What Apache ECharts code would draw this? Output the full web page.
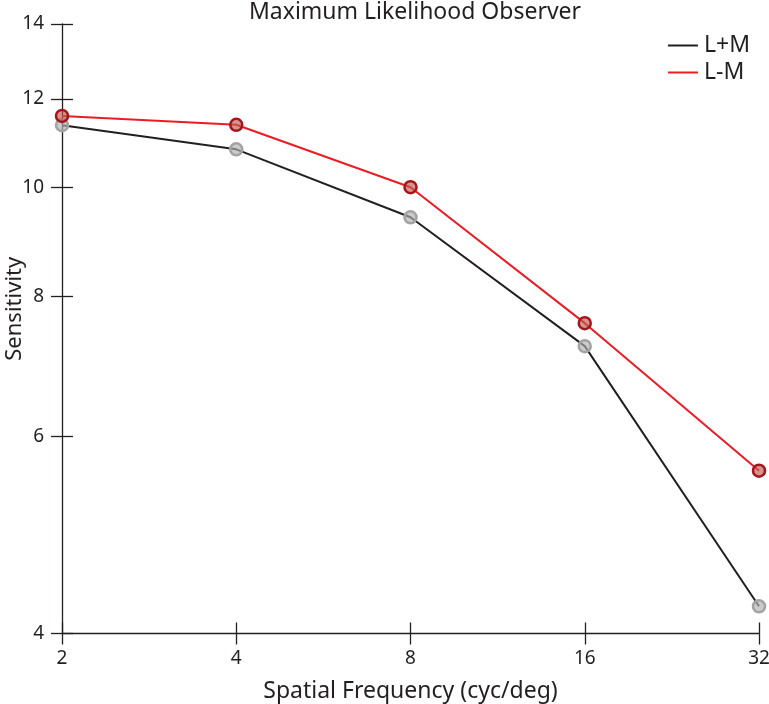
<!DOCTYPE html>
<html><head><meta charset="utf-8">
<script src="https://cdn.jsdelivr.net/npm/echarts@6/dist/echarts.min.js"></script>
<style>html,body{margin:0;padding:0;background:#fff}#c{width:769px;height:704px}</style>
</head><body><div id="c"></div>
<script>
// data
const frequencies = [2, 4, 8, 16, 32];
const lumSensitivity = [11.37, 10.82, 9.41, 7.22, 4.23];     // L+M
const chromSensitivity = [11.59, 11.38, 10.01, 7.57, 5.59];  // L-M
const yTicks = [4, 6, 8, 10, 12, 14];
const xTicks = [2, 4, 8, 16, 32];
const seriesNames = ['L+M', 'L-M'];

const FONT = 'Noto Sans';
const TXT = '#231f20';
const lx = v => Math.log2(v);
const ly = v => Math.log10(v);

const pairs = arr => frequencies.map((f, i) => [lx(f), ly(arr[i])]);

function xAxisDef(inside, main) {
  return {
    type: 'value', position: 'bottom', min: lx(xTicks[0]), max: lx(xTicks[xTicks.length - 1]),
    axisLine: { show: main, onZero: false, lineStyle: { color: TXT, width: 1.3 } },
    axisTick: { show: true, inside: inside, length: 11, customValues: xTicks.map(lx), lineStyle: { color: TXT, width: 1.3 } },
    axisLabel: { show: main, customValues: xTicks.map(lx), formatter: v => String(Math.round(Math.pow(2, v))), color: TXT, fontSize: 19, fontFamily: FONT, margin: 16 },
    splitLine: { show: false },
    name: main ? 'Spatial Frequency (cyc/deg)' : '', nameLocation: 'middle', nameGap: 46, nameMoveOverlap: false,
    nameTextStyle: { color: TXT, fontSize: 23, fontFamily: FONT }
  };
}
function yAxisDef(inside, main) {
  return {
    type: 'value', position: 'left', min: ly(yTicks[0]), max: ly(yTicks[yTicks.length - 1]),
    axisLine: { show: main, onZero: false, lineStyle: { color: TXT, width: 1.3 } },
    axisTick: { show: true, inside: inside, length: 11, customValues: yTicks.map(ly), lineStyle: { color: TXT, width: 1.3 } },
    axisLabel: { show: main, customValues: yTicks.map(ly), formatter: v => String(Math.round(Math.pow(10, v))), color: TXT, fontSize: 19, fontFamily: FONT, margin: 18 },
    splitLine: { show: false },
    name: main ? 'Sensitivity' : '', nameLocation: 'middle', nameGap: 36, nameRotate: 90, nameMoveOverlap: false,
    nameTextStyle: { color: TXT, fontSize: 22, fontFamily: FONT, padding: [0, 0, 0, 40] }
  };
}

const chart = echarts.init(document.getElementById('c'), null, { renderer: 'canvas' });
chart.setOption({
  backgroundColor: '#fff',
  animation: false,
  title: { text: 'Maximum Likelihood Observer', left: 410, textAlign: 'center', top: -4,
    textStyle: { color: TXT, fontSize: 23, fontWeight: 'normal', fontFamily: FONT } },
  legend: {
    orient: 'vertical', right: 14, top: 29, itemWidth: 30, itemHeight: 2, itemGap: 4,
    icon: 'rect', align: 'left',
    textStyle: { color: TXT, fontSize: 23, fontFamily: FONT, padding: [0, 0, 0, 1] },
    data: [
      { name: seriesNames[0], itemStyle: { color: '#231f20', borderWidth: 0 } },
      { name: seriesNames[1], itemStyle: { color: '#ed1c24', borderWidth: 0 } }
    ]
  },
  grid: { left: 62, right: 10, top: 24, bottom: 70.5, containLabel: false, outerBoundsMode: 'none' },
  xAxis: [xAxisDef(false, true), xAxisDef(true, false)],
  yAxis: [yAxisDef(false, true), yAxisDef(true, false)],
  series: [
    {
      name: seriesNames[0], type: 'line', xAxisIndex: 0, yAxisIndex: 0,
      data: pairs(lumSensitivity), symbol: 'circle', symbolSize: 12, z: 2,
      lineStyle: { color: '#231f20', width: 2 },
      itemStyle: { color: 'rgba(175,175,175,0.65)', borderColor: '#a3a3a3', borderWidth: 2.5 }
    },
    {
      name: seriesNames[1], type: 'line', xAxisIndex: 0, yAxisIndex: 0,
      data: pairs(chromSensitivity), symbol: 'circle', symbolSize: 12, z: 3,
      lineStyle: { color: '#ed1c24', width: 2 },
      itemStyle: { color: 'rgba(190,90,80,0.65)', borderColor: '#a3161c', borderWidth: 2.5 }
    }
  ]
});
</script></body></html>
